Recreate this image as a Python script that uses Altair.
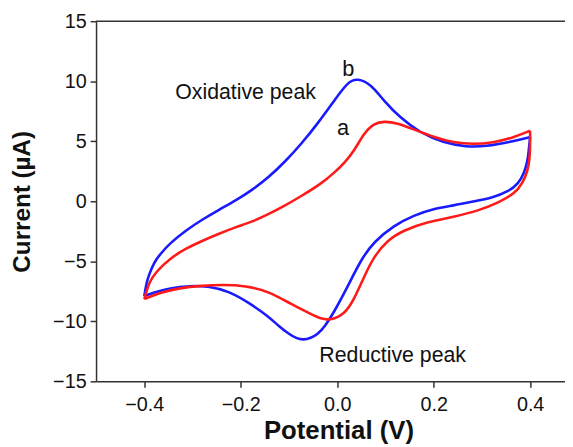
import altair as alt
import pandas as pd

# Curve b (blue): forward (anodic) sweep, then reverse (cathodic) sweep
b_fwd_x = [-0.400, -0.396, -0.391, -0.380, -0.367, -0.347, -0.313, -0.279, -0.245, -0.211,
           -0.176, -0.142, -0.108, -0.074, -0.040, -0.006, 0.022, 0.042, 0.070, 0.097,
           0.131, 0.172, 0.220, 0.268, 0.309, 0.357, 0.400]
b_fwd_y = [-7.9, -6.9, -6.2, -5.1, -4.4, -3.5, -2.4, -1.5, -0.7, 0.05,
           0.95, 2.0, 3.3, 4.8, 6.5, 8.4, 9.95, 10.25, 9.75, 8.35,
           6.95, 5.70, 4.88, 4.52, 4.58, 4.93, 5.35]
b_rev_x = [0.400, 0.398, 0.395, 0.388, 0.376, 0.355, 0.323, 0.282, 0.241, 0.200,
           0.159, 0.118, 0.076, 0.049, 0.022, -0.006, -0.026, -0.040, -0.055, -0.070,
           -0.085, -0.100, -0.120, -0.142, -0.183, -0.224, -0.265, -0.306, -0.347, -0.382, -0.400]
b_rev_y = [5.35, 4.6, 3.37, 2.38, 1.47, 0.81, 0.31, -0.02, -0.35, -0.62,
           -1.17, -2.0, -3.37, -4.88, -7.09, -9.2, -10.45, -11.05, -11.4, -11.55,
           -11.42, -11.05, -10.45, -9.6, -8.46, -7.5, -7.09, -7.03, -7.22, -7.63, -7.9]

# Curve a (red)
a_fwd_x = [-0.400, -0.395, -0.389, -0.375, -0.347, -0.313, -0.279, -0.245, -0.211, -0.176,
           -0.142, -0.108, -0.074, -0.033, -0.006, 0.015, 0.035, 0.056, 0.076, 0.097,
           0.124, 0.159, 0.200, 0.241, 0.282, 0.323, 0.364, 0.400]
a_fwd_y = [-8.14, -7.44, -6.70, -5.85, -4.76, -3.92, -3.28, -2.70, -2.16, -1.71,
           -1.06, -0.35, 0.44, 1.47, 2.38, 3.20, 4.19, 5.70, 6.48, 6.67,
           6.53, 5.98, 5.35, 4.88, 4.74, 4.88, 5.29, 5.88]
a_rev_x = [0.400, 0.400, 0.399, 0.395, 0.384, 0.368, 0.336, 0.295, 0.241, 0.186,
           0.138, 0.104, 0.076, 0.056, 0.035, 0.015, -0.012, -0.033, -0.060, -0.094,
           -0.142, -0.190, -0.238, -0.279, -0.327, -0.368, -0.400]
a_rev_y = [5.88, 4.6, 3.5, 2.54, 1.47, 0.64, -0.07, -0.76, -1.31, -1.72,
           -2.41, -3.23, -4.61, -6.26, -8.18, -9.42, -9.89, -9.83, -9.28, -8.60,
           -7.50, -7.03, -6.95, -7.03, -7.22, -7.63, -8.14]

x_ticks = [-0.4, -0.2, 0.0, 0.2, 0.4]
y_ticks = [-15, -10, -5, 0, 5, 10, 15]

labels_text = ["Oxidative peak", "Reductive peak", "b", "a"]
labels_x = [-0.190, 0.115, 0.023, 0.012]
labels_y = [8.98, -12.9, 11.04, 6.09]
labels_size = [21.5, 21.5, 22, 22]

rows = []
for series, seg, xs, ys in [("b", "b_fwd", b_fwd_x, b_fwd_y), ("b", "b_rev", b_rev_x, b_rev_y),
                            ("a", "a_fwd", a_fwd_x, a_fwd_y), ("a", "a_rev", a_rev_x, a_rev_y)]:
    for i, (x, y) in enumerate(zip(xs, ys)):
        rows.append({"series": series, "seg": seg, "i": i, "E": x, "I": y})
df = pd.DataFrame(rows)

lab = pd.DataFrame({"t": labels_text, "x": labels_x, "y": labels_y, "s": labels_size})

FONT = "Liberation Sans"
AX = "#333333"

xscale = alt.Scale(domain=[-0.5, 0.4723], nice=False, zero=False)
yscale = alt.Scale(domain=[-15, 15], nice=False, zero=False)

lines = alt.Chart(df).mark_line(strokeWidth=2.6, interpolate="basis", clip=True).encode(
    x=alt.X("E:Q", scale=xscale,
            axis=alt.Axis(values=x_ticks, format=".1f", title="Potential (V)", grid=False,
                          tickSize=6, labelPadding=7, titlePadding=4, titleX=245,
                          titleFontSize=26)),
    y=alt.Y("I:Q", scale=yscale,
            axis=alt.Axis(values=y_ticks, format="d", title="Current (µA)", grid=False,
                          tickSize=6, labelPadding=4, titlePadding=18, titleFontSize=24.5)),
    color=alt.Color("series:N", scale=alt.Scale(domain=["a", "b"], range=["#ff1a1a", "#1a1aff"]), legend=None),
    detail="seg:N",
    order="i:Q",
)

top = alt.Chart(pd.DataFrame({"v": [15]})).mark_rule(color=AX, strokeWidth=1.5).encode(
    y=alt.Y("v:Q", scale=yscale)
)

texts = alt.Chart(lab).mark_text(font=FONT, color="#111111", align="center", baseline="middle").encode(
    x=alt.X("x:Q", scale=xscale),
    y=alt.Y("y:Q", scale=yscale),
    text="t:N",
    size=alt.Size("s:Q", scale=None, legend=None),
)

chart = alt.layer(lines, top, texts).properties(
    width=474, height=364,
    autosize=alt.AutoSizeParams(type="none"),
    padding={"left": 89, "top": 11, "right": 0, "bottom": 64},
).configure_view(stroke=None).configure_axis(
    labelFont=FONT, titleFont=FONT, labelFontSize=20,
    titleFontWeight="bold", labelColor="#111111", titleColor="#111111",
    domainColor=AX, tickColor=AX, domainWidth=1.5, tickWidth=1.5,
)

chart.save("out.html", embed_options={"renderer": "svg", "actions": False})
